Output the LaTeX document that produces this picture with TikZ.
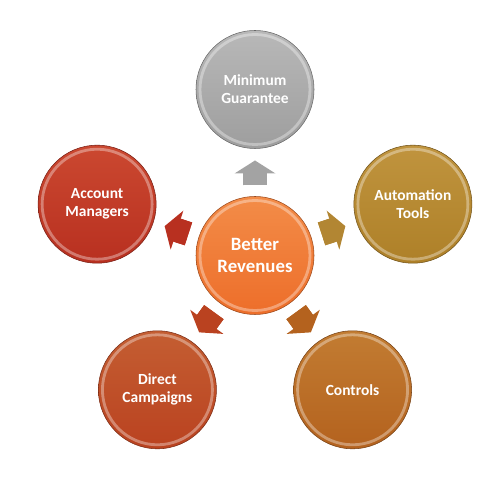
\documentclass[tikz,border=0pt]{standalone}
\usepackage{fontspec}
\setmainfont{Carlito}
\usetikzlibrary{arrows.meta}
\definecolor{mgtop}{RGB}{184,184,184}
\definecolor{mgbot}{RGB}{158,158,158}
\definecolor{hubtop}{RGB}{243,140,72}
\definecolor{hubbot}{RGB}{237,110,42}
\definecolor{amtop}{RGB}{203,72,48}
\definecolor{ambot}{RGB}{184,48,32}
\definecolor{attop}{RGB}{192,148,62}
\definecolor{atbot}{RGB}{174,128,40}
\definecolor{dctop}{RGB}{196,94,50}
\definecolor{dcbot}{RGB}{186,66,32}
\definecolor{cttop}{RGB}{194,124,50}
\definecolor{ctbot}{RGB}{180,98,30}

\tikzset{
  ball/.style 2 args={circle, minimum size=2.36cm, inner sep=0pt, outer sep=0pt,
    align=center, text=white, font=\bfseries\fontsize{8.8}{10.2}\selectfont,
    top color=#1, bottom color=#2, draw=#2!65!black, line width=0.3pt,
    path picture={\draw[white, opacity=0.35, line width=1.6pt]
      (path picture bounding box.center) circle (1.1cm);}},
  push/.style={line width=0.48cm, draw=#1,
    -{Triangle[width=0.82cm, length=0.26cm, line width=0pt 0 0]},
    shorten <=0.22cm, shorten >=0.24cm},
  shaft/.style={line width=0.48cm, draw=#1, shorten <=0.22cm, shorten >=0.42cm}
}

\begin{document}
\begin{tikzpicture}
  \useasboundingbox (-5.1,-4.89) rectangle (4.9,5.11);
  % hub and outer circles
  \node[ball={hubtop}{hubbot}, font=\bfseries\fontsize{10.7}{12.1}\selectfont] (hub) {Better\\Revenues};
  \node[ball={mgtop}{mgbot}] (mg) at (90:3.32cm) {Minimum\\Guarantee};
  \node[ball={attop}{atbot}] (at) at (18:3.32cm) {Automation\\Tools};
  \node[ball={cttop}{ctbot}] (ct) at (-54:3.32cm) {Controls};
  \node[ball={dctop}{dcbot}] (dc) at (234:3.32cm) {Direct\\Campaigns};
  \node[ball={amtop}{ambot}] (am) at (162:3.32cm) {Account\\Managers};
  % block arrows
  \foreach \n/\c in {mg/mgbot!95!white, at/atbot!95!white, ct/ctbot, dc/dcbot, am/ambot} {
    \draw[push=\c] (hub) -- (\n);
    \draw[shaft=\c] (hub) -- (\n);
  }
\end{tikzpicture}
\end{document}
